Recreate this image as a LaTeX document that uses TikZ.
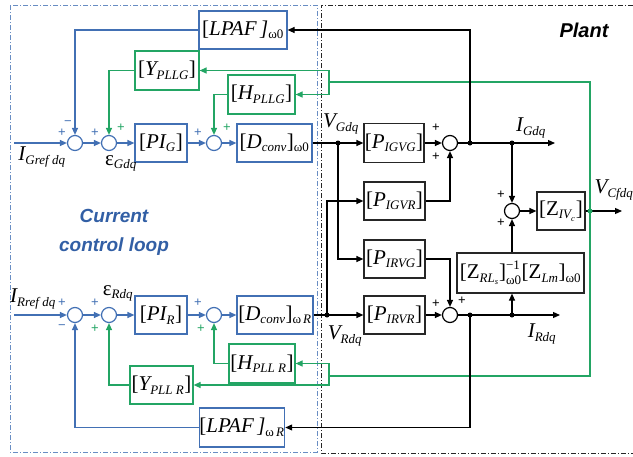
\documentclass[tikz,border=0pt]{standalone}
\usepackage{fontspec}
\setmainfont{Liberation Serif}
\setsansfont{Liberation Sans}
\usetikzlibrary{arrows.meta}
\definecolor{cblue}{RGB}{66,112,180}
\definecolor{cgreen}{RGB}{35,165,100}
\definecolor{ctext}{RGB}{50,95,165}
\newcommand\sbf{\fontsize{13}{13}\selectfont}
\newcommand\ssbf{\fontsize{8.5}{8.5}\selectfont}
\newcommand\sub[1]{\mbox{\sbf\itshape #1}}
\newcommand\subup[1]{\mbox{\sbf #1}}
\begin{document}
\begin{tikzpicture}[x=1pt,y=-1pt, line width=1.2pt, font=\fontsize{21}{23}\selectfont,
 blk/.style={draw, line width=1.2pt, minimum height=38pt, inner sep=0pt},
 bbox/.style={blk, draw=cblue},
 gbox/.style={blk, draw=cgreen},
 kbox/.style={blk, draw=black!85},
 sumb/.style={circle, draw=cblue, minimum size=15pt, inner sep=0pt},
 sumk/.style={circle, draw=black, minimum size=15pt, inner sep=0pt},
 arr/.style={-{Triangle[length=7pt,width=6pt]}},
 dot/.style={circle, fill, inner sep=0pt, minimum size=5pt},
 sgn/.style={font=\fontsize{13}{13}\selectfont\sffamily, inner sep=0pt}
]
\useasboundingbox (0,0) rectangle (633,456);
% frames
\draw[cblue!80, line width=0.9pt, dash pattern=on 5pt off 2pt on 1pt off 2pt] (10,5) rectangle (317,452);
\draw[black!85, line width=0.9pt, dash pattern=on 5pt off 2pt on 1pt off 2pt] (633,5) -- (321,5) -- (321,453) -- (633,453);

% ---- controller G row
\node[sumb] (s1G) at (75,143) {};
\node[sumb] (s2G) at (109,143) {};
\node[sumb] (s3G) at (214,143) {};
\node[bbox, minimum width=52pt] (pig) at (161,143) {$\mbox{[\itshape PI}_{\sub{G}}\mbox{]}$};
\node[bbox, minimum width=75pt] (dg) at (274.5,143) {$\mbox{[\itshape D}_{\sub{conv}}\mbox{]}_{\subup{ω0}}$};
\node[bbox, minimum width=88pt] (lpafG) at (243,30) {$\mbox{[\itshape LPAF\,]}_{\subup{ω0}}$};
\node[gbox, minimum width=64pt, minimum height=39pt] (yg) at (167,70.5) {$\mbox{[\itshape Y}_{\sub{PLLG}}\mbox{]}$};
\node[gbox, minimum width=67pt, minimum height=39pt] (hg) at (261.5,94.5) {$\mbox{[\itshape H}_{\sub{PLLG}}\mbox{]}$};

% ---- controller R row
\node[sumb] (s1R) at (75,315) {};
\node[sumb] (s2R) at (109,315) {};
\node[sumb] (s3R) at (214,315) {};
\node[bbox, minimum width=52pt] (pir) at (161,315) {$\mbox{[\itshape PI}_{\sub{R}}\mbox{]}$};
\node[bbox, minimum width=76pt] (dr) at (275,315) {$\mbox{[\itshape D}_{\sub{conv}}\mbox{]}_{\sub{\upshape ω\,}\sub{R}}$};
\node[gbox, minimum width=66pt, minimum height=39pt] (hr) at (262,363.5) {$\mbox{[\itshape H}_{\sub{PLL R}}\mbox{]}$};
\node[gbox, minimum width=63pt] (yr) at (161.5,385) {$\mbox{[\itshape Y}_{\sub{PLL R}}\mbox{]}$};
\node[bbox, minimum width=82pt, minimum height=39pt] (lpafR) at (242,427.5) {$\mbox{[\itshape LPAF\,]}_{\sub{\upshape ω\,}\sub{R}}$};

% ---- plant
\node[kbox, minimum width=60pt, minimum height=39pt] (pigvg) at (394,143) {$\mbox{[\itshape P}_{\sub{IGVG}}\mbox{]}$};
\node[kbox, minimum width=61pt] (pigvr) at (394.5,201) {$\mbox{[\itshape P}_{\sub{IGVR}}\mbox{]}$};
\node[kbox, minimum width=61pt] (pirvg) at (394.5,259) {$\mbox{[\itshape P}_{\sub{IRVG}}\mbox{]}$};
\node[kbox, minimum width=61pt] (pirvr) at (394.5,315) {$\mbox{[\itshape P}_{\sub{IRVR}}\mbox{]}$};
\node[sumk] (sG) at (450,143) {};
\node[sumk] (sR) at (450,315) {};
\node[sumk] (sZ) at (512,211) {};
\node[kbox, minimum width=48pt] (ziv) at (561,211) {$\mbox{[Z}_{\sub{IV}_{\mbox{\ssbf\itshape c}}}\mbox{]}$};
\node[kbox, minimum width=127pt, minimum height=40pt] (zrl) at (520.5,273) {$\mbox{[Z}_{\sub{RL}_{\mbox{\ssbf\itshape s}}}\mbox{]}^{\subup{−1}}_{\subup{ω0}}\mbox{[Z}_{\sub{Lm}}\mbox{]}_{\subup{ω0}}$};

% labels
\node (lIG) at (42,157) {$\mbox{\itshape I}_{\sub{Gref dq}}$};
\node (lEG) at (121,163) {$\mbox{ε}_{\sub{Gdq}}$};
\node (lIR) at (33,299) {$\mbox{\itshape I}_{\sub{Rref dq}}$};
\node (lER) at (118,293) {$\mbox{ε}_{\sub{Rdq}}$};
\node (lVG) at (341,124) {$\mbox{\itshape V}_{\sub{Gdq}}$};
\node (lVR) at (345,336) {$\mbox{\itshape V}_{\sub{Rdq}}$};
\node (lIGd) at (531,128) {$\mbox{\itshape I}_{\sub{Gdq}}$};
\node (lIRd) at (542,334) {$\mbox{\itshape I}_{\sub{Rdq}}$};
\node (lVC) at (614,190) {$\mbox{\itshape V}_{\sub{Cfdq}}$};
\node[font=\fontsize{20}{20}\selectfont\sffamily\bfseries\itshape] (plant) at (584,30) {Plant};
\node[font=\fontsize{19}{29}\selectfont\sffamily\bfseries\itshape, text=ctext, align=center] (ccl) at (114,232) {Current\\control loop};

% signs
\node[sgn, text=cblue] (p1) at (62,133) {+};
\node[sgn, text=cblue] (m1) at (68,123) {−};
\node[sgn, text=cblue] (p2) at (95,133) {+};
\node[sgn, text=cgreen] (p3) at (121,128) {+};
\node[sgn, text=cblue] (p4) at (198,133) {+};
\node[sgn, text=cgreen] (p5) at (227,128) {+};
\node[sgn, text=cblue] (p6) at (62,303) {+};
\node[sgn, text=cblue] (m2) at (62,327) {−};
\node[sgn, text=cblue] (p7) at (95,303) {+};
\node[sgn, text=cgreen] (p8) at (95,329) {+};
\node[sgn, text=cblue] (p9) at (198,303) {+};
\node[sgn, text=cgreen] (p10) at (201,329) {+};
\node[sgn] (p11) at (436,128) {+};
\node[sgn] (p12) at (436,157) {+};
\node[sgn] (p13) at (436,304) {+};
\node[sgn] (p14) at (462,301) {+};
\node[sgn] (p15) at (501,195) {+};
\node[sgn] (p16) at (501,223) {+};

% blue connectors
\coordinate (inG) at (14,143);
\coordinate (inR) at (14,315);
\begin{scope}[cblue, arr]
\draw (inG) -- (s1G);
\draw (s1G) -- (s2G);
\draw (s2G) -- (pig);
\draw (pig) -- (s3G);
\draw (s3G) -- (dg);
\draw (lpafG.west) -| (s1G.north);
\draw (inR) -- (s1R);
\draw (s1R) -- (s2R);
\draw (s2R) -- (pir);
\draw (pir) -- (s3R);
\draw (s3R) -- (dr);
\draw (lpafR.west) -| (s1R.south);
\end{scope}
% green connectors
\begin{scope}[cgreen, arr]
\draw (yg.west) -| (s2G.north);
\draw (hg.west) -| (s3G.north);
\draw (yr.west) -| (s2R.south);
\draw (hr.west) -| (s3R.south);
\end{scope}
\coordinate (jVC) at (590,211);
\coordinate (gt) at (590,82);
\coordinate (gtl) at (329,82);
\coordinate (gb) at (590,376);
\coordinate (gbl) at (329,376);
\draw[cgreen] (gtl) -- (gt) -- (gb) -- (gbl);
\draw[cgreen, arr] (gtl) -- (gtl |- yg.east) -- (yg.east);
\draw[cgreen, arr] (gtl) -- (gtl |- hg.east) -- (hg.east);
\draw[cgreen, arr] (gbl) -- (gbl |- hr.east) -- (hr.east);
\draw[cgreen, arr] (gbl) -- (gbl |- yr.east) -- (yr.east);

% plant connectors
\coordinate (jVG) at (338,143);
\coordinate (jVR) at (327,315);
\coordinate (jIG1) at (470,143);
\coordinate (jIG2) at (512,143);
\coordinate (jIR1) at (470,315);
\coordinate (jIR2) at (512,315);
\coordinate (eIG) at (555,143);
\coordinate (eIR) at (560,315);
\coordinate (eVC) at (622,211);
\draw (dg.east) -- (jVG);
\draw[arr] (jVG) -- (pigvg);
\draw[arr] (jVG) |- (pirvg.west);
\draw (dr.east) -- (jVR);
\draw[arr] (jVR) -- (pirvr);
\draw[arr] (jVR) |- (pigvr.west);
\draw[arr] (pigvg) -- (sG);
\draw[arr] (pigvr.east) -| (sG.south);
\draw[arr] (pirvg.east) -| (sR.north);
\draw[arr] (pirvr) -- (sR);
\draw[arr] (sG) -- (eIG);
\draw[arr] (sR) -- (eIR);
\draw[arr] (jIG1) |- (lpafG.east);
\draw[arr] (jIR1) |- (lpafR.east);
\draw[arr] (jIG2) -- (sZ);
\draw[arr] (jIR2) -- (zrl.south -| jIR2);
\draw[arr] (zrl.north -| sZ) -- (sZ);
\draw[arr] (sZ) -- (ziv);
\draw (ziv.east) -- (jVC);
\draw[arr] (jVC) -- (eVC);

% junction dots
\node[dot] (dVG) at (jVG) {};
\node[dot] (dVR) at (jVR) {};
\node[dot] (dIG1) at (jIG1) {};
\node[dot] (dIG2) at (jIG2) {};
\node[dot] (dIR1) at (jIR1) {};
\node[dot] (dIR2) at (jIR2) {};
\node[dot, fill=cgreen] (dVC) at (jVC) {};
\end{tikzpicture}
\end{document}
